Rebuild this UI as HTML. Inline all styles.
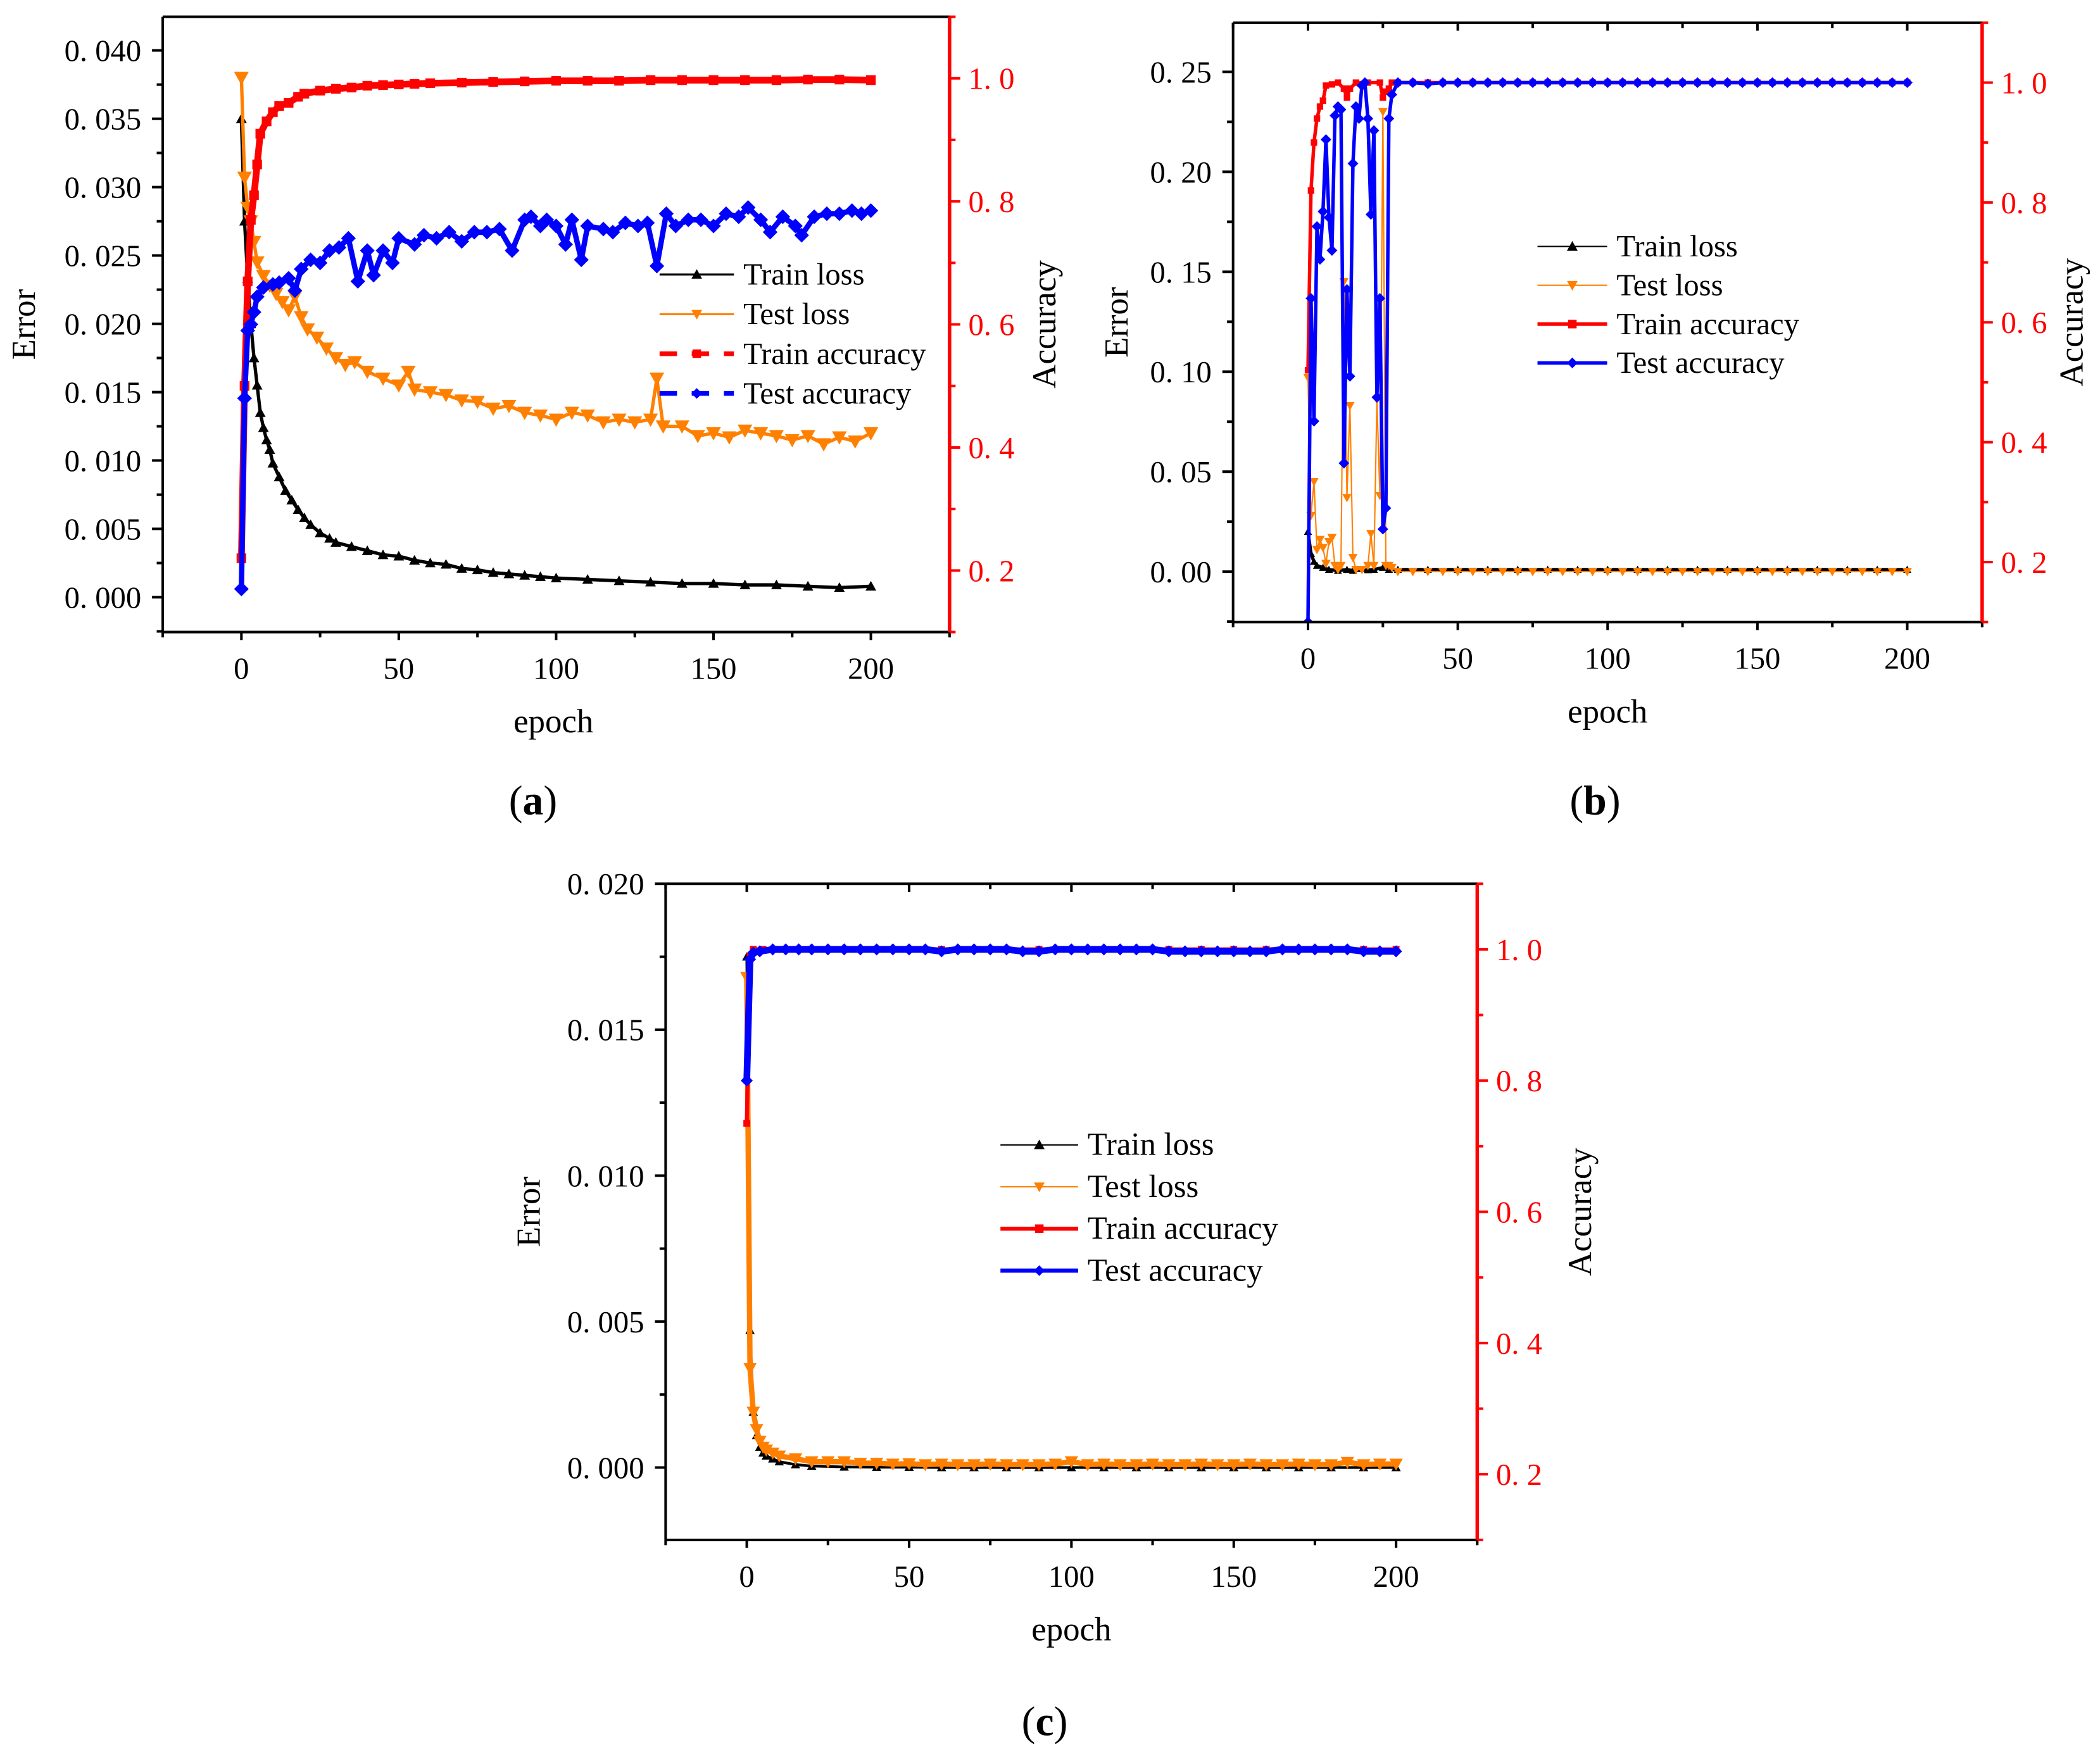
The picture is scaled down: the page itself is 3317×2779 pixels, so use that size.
<!DOCTYPE html>
<html><head><meta charset="utf-8">
<style>
html,body{margin:0;padding:0;background:#fff;}
svg{display:block;}
text{font-family:"Liberation Serif","DejaVu Serif","Noto Serif CJK SC",serif;}
</style></head>
<body>
<svg id="fig" xmlns="http://www.w3.org/2000/svg" width="3317" height="2779" viewBox="0 0 1568 1313.6" font-family="Liberation Serif, DejaVu Serif, serif">
<rect width="1568" height="1313.6" fill="#fff"/>
</svg>
<script>
// ---------- Panel (a) data ----------
const aTrainLossEpochs=[0,1,2,3,4,5,6,7,8,9,10,12,14,16,18,20,22,25,28,30,35,40,45,50,55,60,65,70,75,80,85,90,95,100,110,120,130,140,150,160,170,180,190,200];
const aTrainLoss=[0.035,0.0275,0.0233,0.020,0.0175,0.0155,0.0135,0.0124,0.0115,0.0108,0.0098,0.0088,0.0078,0.0071,0.0064,0.0058,0.0053,0.0047,0.0043,0.0040,0.0037,0.0034,0.0031,0.0030,0.0027,0.0025,0.0024,0.0021,0.0020,0.0018,0.0017,0.0016,0.0015,0.0014,0.0013,0.0012,0.0011,0.0010,0.0010,0.0009,0.0009,0.0008,0.0007,0.0008];
const aTestLossEpochs=[0,1,2,3,4,5,7,9,11,13,15,17,19,21,24,27,30,33,36,40,45,50,53,55,60,65,70,75,80,85,90,95,100,105,110,115,120,125,130,132,134,140,145,150,155,160,165,170,175,180,185,190,195,200];
const aTestLoss=[0.038,0.0307,0.0285,0.0275,0.026,0.0245,0.0235,0.0228,0.0222,0.0216,0.021,0.022,0.0205,0.0196,0.019,0.0182,0.0175,0.017,0.0172,0.0165,0.016,0.0155,0.0165,0.0152,0.0150,0.0148,0.0144,0.0143,0.0138,0.0140,0.0135,0.0133,0.0130,0.0135,0.0133,0.0128,0.0130,0.0128,0.0130,0.016,0.0125,0.0125,0.0118,0.0120,0.0117,0.0122,0.0120,0.0118,0.0115,0.0118,0.0112,0.0117,0.0114,0.0120];
const aTrainAccEpochs=[0,1,2,3,4,5,6,8,10,12,15,18,20,25,30,35,40,45,50,55,60,70,80,90,100,110,120,130,140,150,160,170,180,190,200];
const aTrainAcc=[0.22,0.5,0.67,0.77,0.81,0.86,0.91,0.93,0.945,0.955,0.96,0.97,0.975,0.98,0.983,0.985,0.988,0.989,0.99,0.991,0.992,0.993,0.994,0.995,0.996,0.996,0.996,0.997,0.997,0.997,0.997,0.997,0.998,0.998,0.997];
const aTestAccEpochs=[0,1,2,3,4,5,7,10,12,15,17,19,22,25,28,31,34,37,40,42,45,48,50,55,58,62,66,70,74,78,82,86,90,92,95,97,100,103,105,108,110,115,118,122,126,129,132,135,138,142,146,150,154,158,161,165,168,172,176,178,182,186,190,194,197,200];
const aTestAcc=[0.17,0.48,0.59,0.60,0.62,0.645,0.66,0.665,0.668,0.675,0.655,0.69,0.705,0.70,0.72,0.725,0.74,0.67,0.72,0.68,0.72,0.70,0.74,0.73,0.745,0.74,0.75,0.735,0.75,0.75,0.755,0.72,0.77,0.775,0.76,0.77,0.76,0.73,0.77,0.705,0.76,0.755,0.75,0.765,0.76,0.765,0.695,0.78,0.76,0.77,0.77,0.76,0.78,0.775,0.79,0.77,0.75,0.775,0.76,0.745,0.775,0.78,0.78,0.785,0.78,0.785];

// ---------- Panel (b) data ----------
const bTrainLossEpochs=[0,1,2,3,5,7,10,13,15,20,22,25,27,30,40,50,60,70,80,90,100,110,120,130,140,150,160,170,180,190,200];
const bTrainLoss=[0.02,0.009,0.005,0.003,0.002,0.001,0.0005,0.001,0.0005,0.0008,0.001,0.002,0.001,0.001,0.001,0.001,0.001,0.001,0.001,0.001,0.001,0.001,0.001,0.001,0.001,0.001,0.001,0.001,0.001,0.001,0.001];
const bTestLossEpochs=[0,1,2,3,4,5,6,7,8,9,10,11,12,13,14,15,16,18,20,21,22,23,24,25,26,27,28,30,35,40,45,50,55,60,65,70,75,80,85,90,95,100,105,110,115,120,125,130,135,140,145,150,155,160,165,170,175,180,185,190,195,200];
const bTestLoss=[0.097,0.028,0.045,0.011,0.016,0.012,0.004,0.015,0.017,0.003,0.001,0.003,0.145,0.037,0.083,0.007,0.001,0.001,0.003,0.019,0.003,0.086,0.038,0.23,0.003,0.003,0.002,0,0,0,0,0,0,0,0,0,0,0,0,0,0,0,0,0,0,0,0,0,0,0,0,0,0,0,0,0,0,0,0,0,0,0];
const bTrainAccEpochs=[0,1,2,3,4,5,6,8,10,12,13,14,16,20,24,25,26,27,28,30,35,40,45,50,55,60,65,70,75,80,85,90,95,100,105,110,115,120,125,130,135,140,145,150,155,160,165,170,175,180,185,190,195,200];
const bTrainAcc=[0.52,0.82,0.90,0.94,0.96,0.97,0.995,0.997,1.0,0.99,0.975,0.99,1.0,1.0,1.0,0.975,0.985,0.99,1.0,1.0,1,1,1,1,1,1,1,1,1,1,1,1,1,1,1,1,1,1,1,1,1,1,1,1,1,1,1,1,1,1,1,1,1,1];
const bTestAccEpochs=[0,1,2,3,4,5,6,7,8,9,10,11,12,13,14,15,16,17,18,19,20,21,22,23,24,25,26,27,28,30,35,40,45,50,55,60,65,70,75,80,85,90,95,100,105,110,115,120,125,130,135,140,145,150,155,160,165,170,175,180,185,190,195,200];
const bTestAcc=[0.1,0.64,0.435,0.76,0.705,0.785,0.905,0.775,0.72,0.945,0.96,0.955,0.365,0.655,0.51,0.865,0.96,0.94,0.995,1.0,0.94,0.78,0.92,0.475,0.64,0.255,0.29,0.94,0.98,1,1,0.998,1,1,1,1,1,1,1,1,1,1,1,1,1,1,1,1,1,1,1,1,1,1,1,1,1,1,1,1,1,1,1,1];

// ---------- Panel (c) data ----------
const cTrainLossEpochs=[0,1,2,3,4,5,6,8,10,15,20,30,40,50,60,70,80,90,100,110,120,130,140,150,160,170,180,190,200];
const cTrainLoss=[0.0175,0.0047,0.0019,0.0011,0.0007,0.0005,0.0004,0.0003,0.0002,0.0001,0.00005,0.00002,0.00001,0.00001,0,0,0,0,0,0,0,0,0,0,0,0,0,0,0];
const cTestLossEpochs=[0,1,2,3,4,5,6,8,10,15,20,25,30,35,40,45,50,55,60,65,70,75,80,85,90,95,100,105,110,115,120,125,130,135,140,145,150,155,160,165,170,175,180,185,190,195,200];
const cTestLoss=[0.0168,0.0034,0.0019,0.0013,0.0009,0.0007,0.0006,0.0005,0.0004,0.0003,0.0002,0.0002,0.0002,0.00015,0.00015,0.00012,0.00013,0.0001,0.00012,0.0001,0.0001,0.00012,0.0001,0.0001,0.0001,0.00012,0.0002,0.0001,0.00012,0.0001,0.0001,0.00012,0.0001,0.0001,0.00012,0.0001,0.0001,0.00012,0.0001,0.0001,0.00012,0.0001,0.0001,0.00018,0.0001,0.00012,0.00012];
const cTrainAccEpochs=[0,1,2,5,10,20,30,40,50,60,70,80,90,100,110,120,130,140,150,160,170,180,190,200];
const cTrainAcc=[0.735,0.99,1,1,1,1,1,1,1,1,1,1,1,1,1,1,1,1,1,1,1,1,1,1];
const cTestAccEpochs=[0,1,2,4,8,12,16,20,25,30,35,40,45,50,55,60,65,70,75,80,85,90,95,100,105,110,115,120,125,130,135,140,145,150,155,160,165,170,175,180,185,190,195,200];
const cTestAcc=[0.80,0.985,0.995,0.997,1,1,1,1,1,1,1,1,1,1,1,0.997,1,1,1,1,0.997,0.997,1,1,1,1,1,1,1,0.997,0.997,0.997,0.997,0.997,0.997,0.997,1,1,1,1,1,0.997,0.997,0.997];

const errTicksA=["0. 000","0. 005","0. 010","0. 015","0. 020","0. 025","0. 030","0. 035","0. 040"];
const errTicksB=["0. 00","0. 05","0. 10","0. 15","0. 20","0. 25"];
const errTicksC=["0. 000","0. 005","0. 010","0. 015","0. 020"];
const accTicks=["0. 2","0. 4","0. 6","0. 8","1. 0"];
const epochTicks=["0","50","100","150","200"];

const NS="http://www.w3.org/2000/svg";
const fig=document.getElementById('fig');
function mk(tag,attrs,parent,txt){const e=document.createElementNS(NS,tag);for(const k in attrs)e.setAttribute(k,attrs[k]);if(txt!==undefined)e.textContent=txt;(parent||fig).appendChild(e);return e;}
const FF='"Liberation Serif","DejaVu Serif",serif';

function marker(g,type,x,y,col,s){
  let e;
  if(type==='tri'){e=mk('polygon',{points:`${x},${y-s} ${x-s},${y+s*0.8} ${x+s},${y+s*0.8}`,fill:col},g);}
  else if(type==='tridown'){e=mk('polygon',{points:`${x},${y+s} ${x-s},${y-s*0.8} ${x+s},${y-s*0.8}`,fill:col},g);}
  else if(type==='sq'){e=mk('rect',{x:x-s*0.8,y:y-s*0.8,width:s*1.6,height:s*1.6,fill:col},g);}
  else {e=mk('polygon',{points:`${x},${y-s} ${x+s},${y} ${x},${y+s} ${x-s},${y}`,fill:col},g);}
  
  
}
function txt(attrs,parent,t){attrs['font-family']=FF;return mk('text',attrs,parent,t);}

function drawPanel(c){
  const g=mk('g',{});
  
  
  const xS=v=>c.L+(v-(-25))/250*(c.R-c.L);
  const yE=v=>c.B-(v-c.eMin)/(c.eMax-c.eMin)*(c.B-c.T);
  const yA=v=>c.B-(v-0.1)/1.0*(c.B-c.T);
  const clip='clip'+c.id;
  const cp=mk('clipPath',{id:clip},g);mk('rect',{x:c.L,y:c.T,width:c.R-c.L,height:c.B-c.T},cp);
  const sg=mk('g',{'clip-path':`url(#${clip})`},g);
  c.series.forEach(s=>{
    const ys=s.axis==='e'?yE:yA;
    const pts=s.ep.map((e,i)=>xS(e).toFixed(2)+','+ys(s.val[i]).toFixed(2)).join(' ');
    const pl=mk('polyline',{points:pts,fill:'none',stroke:s.col,'stroke-width':s.w,'stroke-dasharray':s.dash||'none','stroke-linejoin':'round'},sg);
    
    
    s.ep.forEach((e,i)=>marker(sg,s.m,xS(e),ys(s.val[i]),s.col,s.ms));
  });
  const ax=mk('g',{stroke:'#000','stroke-width':1.9,fill:'none'},g);
  
  
  mk('line',{x1:c.L,y1:c.T,x2:c.R,y2:c.T},ax);
  mk('line',{x1:c.L,y1:c.B,x2:c.R,y2:c.B},ax);
  mk('line',{x1:c.L,y1:c.T,x2:c.L,y2:c.B},ax);
  for(let v=-25;v<=225;v+=25){
    const x=xS(v),maj=(v%50===0);
    mk('line',{x1:x,y1:c.B,x2:x,y2:c.B+(maj?6:4)},ax);
    if(c.topTicks) mk('line',{x1:x,y1:c.T,x2:x,y2:c.T+(maj?6:4)},ax);
  }
  epochTicks.forEach(t=>{const e=txt({x:xS(+t),y:c.B+35,'font-size':23,'text-anchor':'middle',fill:'#000'},g,t);});
  c.eTicks.forEach((t,i)=>{
    const v=i*c.eStep,y=yE(v);
    mk('line',{x1:c.L-8,y1:y,x2:c.L,y2:y},ax);
    const ym=yE(v+c.eStep/2);
    if(ym>c.T) mk('line',{x1:c.L-4.5,y1:ym,x2:c.L,y2:ym},ax);
    const e=txt({x:c.L-16,y:y+8,'font-size':23,'text-anchor':'end',fill:'#000'},g,t);
    
  });
  const ymb=yE(-c.eStep/2); if(ymb<c.B) mk('line',{x1:c.L-4.5,y1:ymb,x2:c.L,y2:ymb},ax);
  const ra=mk('g',{stroke:'#f00','stroke-width':2.6},g);
  
  
  mk('line',{x1:c.R,y1:c.T,x2:c.R,y2:c.B},ra);
  for(let k=1;k<=11;k++){const v=k/10,y=yA(v),maj=(k%2===0);mk('line',{x1:c.R,y1:y,x2:c.R+(maj?8:4.5),y2:y,'stroke-width':1.9},ra);}
  accTicks.forEach(t=>{const v=parseFloat(t.replace(' ',''));const e=txt({x:c.R+14,y:yA(v)+8,'font-size':23,fill:'#f00'},g,t);});
  let e=txt({x:(c.L+c.R)/2-(c.epochDx||0),y:c.B+75,'font-size':25,'text-anchor':'middle',fill:'#000'},g,'epoch');
  
  e=txt({transform:`translate(${c.errX},${(c.T+c.B)/2}) rotate(-90)`,'font-size':25,'text-anchor':'middle',fill:'#000'},g,'Error');
  
  e=txt({transform:`translate(${c.accX},${(c.T+c.B)/2}) rotate(-90)`,'font-size':25,'text-anchor':'middle',fill:'#000'},g,'Accuracy');
  
  e=txt({x:c.capX,y:c.capY,'font-size':31,'text-anchor':'middle',fill:'#000'},g);
  
  mk('tspan',{},e,'(');mk('tspan',{'font-weight':'bold'},e,c.id);mk('tspan',{},e,')');
  const lg=mk('g',{},g);
  
  
  c.series.forEach((s,i)=>{
    const y=c.legY+i*c.legDy;
    const le=mk('g',{},lg);
    
    
    mk('line',{x1:c.legX,y1:y,x2:c.legX+c.legW,y2:y,stroke:s.col,'stroke-width':s.legW||Math.min(s.w,3),'stroke-dasharray':s.legDash||'none'},le);
    marker(le,s.m,c.legX+c.legW/2,y,s.col,s.lms||4);
    txt({x:c.legX+c.legW+7,y:y+7.5,'font-size':c.legFont,fill:'#000'},le,s.label);
  });
}

drawPanel({id:'a',L:121.5,R:709,T:12.5,B:472,eMin:-0.00255,eMax:0.04246,eStep:0.005,eTicks:errTicksA,topTicks:false,
  errX:26,accX:788,capX:398,capY:608,legX:492.5,legW:55.5,legY:205,legDy:29.6,legFont:23,epochDx:2,
  series:[
  {name:'train-loss',label:'Train loss',ep:aTrainLossEpochs,val:aTrainLoss,axis:'e',col:'#000',w:2.5,m:'tri',ms:4,legW:1.5},
  {name:'test-loss',label:'Test loss',ep:aTestLossEpochs,val:aTestLoss,axis:'e',col:'#ff8000',w:2.5,m:'tridown',ms:5.5,legW:1.5},
  {name:'train-accuracy',label:'Train accuracy',ep:aTrainAccEpochs,val:aTrainAcc,axis:'a',col:'#f00',w:5,m:'sq',ms:4.5,legW:3.5,legDash:'13,11'},
  {name:'test-accuracy',label:'Test accuracy',ep:aTestAccEpochs,val:aTestAcc,axis:'a',col:'#00f',w:4,m:'dia',ms:5.5,legW:3.5,legDash:'13,11'}]});

drawPanel({id:'b',L:920.7,R:1480,T:16.9,B:464.5,eMin:-0.0252,eMax:0.2746,eStep:0.05,eTicks:errTicksB,topTicks:true,
  errX:842,accX:1555,capX:1191,capY:608,legX:1148,legW:52,legY:184,legDy:29,legFont:23,
  series:[
  {name:'train-loss',label:'Train loss',ep:bTrainLossEpochs,val:bTrainLoss,axis:'e',col:'#000',w:2.5,m:'tri',ms:3,legW:1},
  {name:'test-loss',label:'Test loss',ep:bTestLossEpochs,val:bTestLoss,axis:'e',col:'#ff8000',w:1,m:'tridown',ms:3.5},
  {name:'train-accuracy',label:'Train accuracy',ep:bTrainAccEpochs,val:bTrainAcc,axis:'a',col:'#f00',w:2.6,m:'sq',ms:3},
  {name:'test-accuracy',label:'Test accuracy',ep:bTestAccEpochs,val:bTestAcc,axis:'a',col:'#00f',w:2.6,m:'dia',ms:4}]});

drawPanel({id:'c',L:497,R:1103,T:660,B:1150,eMin:-0.00248,eMax:0.02,eStep:0.005,eTicks:errTicksC,topTicks:true,
  errX:403,accX:1188,capX:780,capY:1296,legX:747,legW:58,legY:855,legDy:31.3,legFont:24,epochDx:0,
  series:[
  {name:'train-loss',label:'Train loss',ep:cTrainLossEpochs,val:cTrainLoss,axis:'e',col:'#000',w:2,m:'tri',ms:3.5,legW:1},
  {name:'test-loss',label:'Test loss',ep:cTestLossEpochs,val:cTestLoss,axis:'e',col:'#ff8000',w:4,m:'tridown',ms:5,legW:1},
  {name:'train-accuracy',label:'Train accuracy',ep:cTrainAccEpochs,val:cTrainAcc,axis:'a',col:'#f00',w:3,m:'sq',ms:3.2},
  {name:'test-accuracy',label:'Test accuracy',ep:cTestAccEpochs,val:cTestAcc,axis:'a',col:'#00f',w:5,m:'dia',ms:4.5,legW:3}]});
</script>
</body></html>
